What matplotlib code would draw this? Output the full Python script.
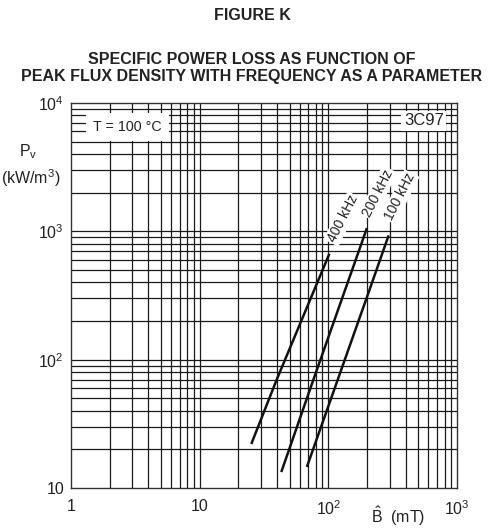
import matplotlib
matplotlib.use("Agg")
import matplotlib.pyplot as plt
import numpy as np

plt.rcParams['font.family'] = ['Liberation Sans', 'DejaVu Sans']
plt.rcParams['mathtext.fontset'] = 'custom'
plt.rcParams['mathtext.rm'] = 'Liberation Sans'
plt.rcParams['mathtext.it'] = 'Liberation Sans'
plt.rcParams['mathtext.bf'] = 'Liberation Sans:bold'

# Data (peak flux density in mT, power loss in kW/m^3)
freq_labels = ["400 kHz", "200 kHz", "100 kHz"]
b_400 = [25.4, 39.6, 101]
p_400 = [22.5, 69.5, 655]
b_200 = [43.4, 76.4, 198]
p_200 = [13.6, 69.5, 1038]
b_100 = [68.6, 196, 292]
p_100 = [14.9, 292, 910]
x_ticks = [1, 10, 100, 1000]
x_ticklabels = ["1", "10", "10$^2$", "10$^3$"]
y_ticks = [10, 100, 1000, 10000]
y_ticklabels = ["10", "10$^2$", "10$^3$", "10$^4$"]

W, H = 503, 529
fig = plt.figure(figsize=(W / 100, H / 100), dpi=100)
ax = fig.add_axes([71 / W, 1 - 488 / H, (457 - 71) / W, (488 - 103) / H])
ax.set_xscale('log')
ax.set_yscale('log')
ax.set_xlim(1, 1000)
ax.set_ylim(10, 10000)

gc = '#1a1a1a'
for dec in [1, 10, 100]:
    for m in range(1, 10):
        v = dec * m
        if 1 < v < 1000:
            ax.axvline(v, color=gc, lw=0.9, zorder=1)
for dec in [10, 100, 1000]:
    for m in range(1, 10):
        v = dec * m
        if 10 < v < 10000:
            ax.axhline(v, color=gc, lw=0.9, zorder=1)

for s in ax.spines.values():
    s.set_color('#333333')
    s.set_linewidth(1.0)

ax.set_xticks(x_ticks)
ax.set_xticklabels(x_ticklabels)
ax.set_yticks(y_ticks)
ax.set_yticklabels(y_ticklabels)
ax.minorticks_off()
ax.tick_params(length=0, labelsize=11.5, colors='#222222')
ax.tick_params(axis='x', pad=8)
ax.tick_params(axis='y', pad=5)

for b, p in [(b_400, p_400), (b_200, p_200), (b_100, p_100)]:
    ax.plot(b, p, color='#111111', lw=1.8, zorder=3)

ax.text(1.48, 6500, "T = 100 °C", fontsize=10.3, va='center', ha='left',
        bbox=dict(boxstyle='square,pad=0.5', facecolor='white', edgecolor='none'), zorder=4, color='#222222')
ax.text(553, 7250, "3C97", fontsize=12, va='center', ha='center',
        bbox=dict(boxstyle='square,pad=0.15', facecolor='white', edgecolor='none'), zorder=4, color='#222222')

rot = 63
lb = dict(boxstyle='square,pad=0.1', facecolor='white', edgecolor='none')
ax.text(130, 1250, freq_labels[0], fontsize=10, rotation=rot, ha='center', va='center', bbox=lb, zorder=4, color='#222222')
ax.text(243, 1990, freq_labels[1], fontsize=10, rotation=rot, ha='center', va='center', bbox=lb, zorder=4, color='#222222')
ax.text(360, 1853, freq_labels[2], fontsize=10, rotation=rot, ha='center', va='center', bbox=lb, zorder=4, color='#222222')

fig.text(252 / W, 1 - 16 / H, "FIGURE K", fontsize=11.5, fontweight='bold', ha='center', va='center', color='#222222')
fig.text(252 / W, 1 - 60 / H, "SPECIFIC POWER LOSS AS FUNCTION OF", fontsize=11.5, fontweight='bold', ha='center', va='center', color='#222222')
fig.text(252 / W, 1 - 76 / H, "PEAK FLUX DENSITY WITH FREQUENCY AS A PARAMETER", fontsize=11.5, fontweight='bold', ha='center', va='center', color='#222222')

fig.text(28 / W, 1 - 152 / H, "P$_\\mathrm{v}$", fontsize=11.5, ha='center', va='center', color='#222222')
fig.text(31 / W, 1 - 178 / H, "(kW/m$^3$)", fontsize=11.5, ha='center', va='center', color='#222222')
fig.text(398 / W, 1 - 516 / H, "$\\hat{\\mathrm{B}}$  (mT)", fontsize=11.5, ha='center', va='center', color='#222222')

fig.savefig("out.png", dpi=100)
